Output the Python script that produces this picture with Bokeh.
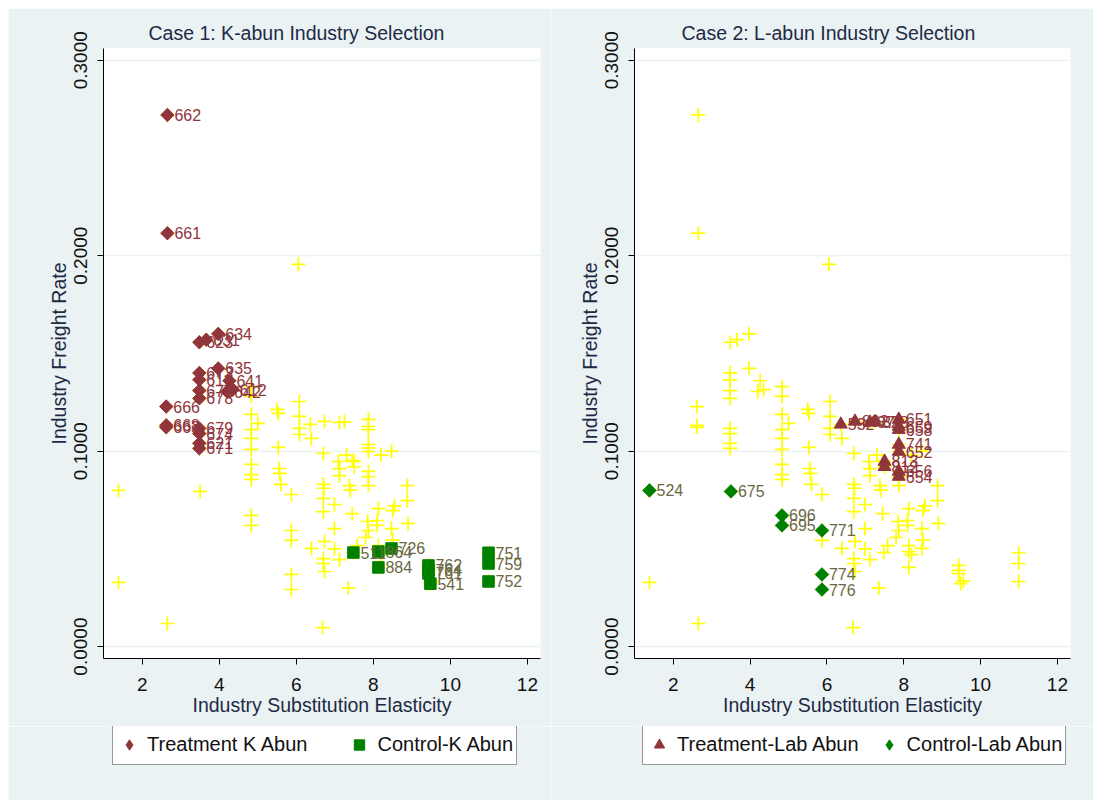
import numpy as np
from bokeh.plotting import figure
from bokeh.models import (FixedTicker, PrintfTickFormatter, Legend, LegendItem,
                          ColumnDataSource, Range1d, Spacer)
from bokeh.layouts import row, column
from bokeh.embed import file_html
from bokeh.resources import INLINE
from bokeh.core.properties import value

# ---------------- data ----------------
# Case 1: treatment (K-abundant) industries
tk_sigma = [2.65, 2.65, 3.48, 3.66, 3.97, 3.97, 3.48, 3.48, 4.26, 3.48, 4.35, 4.20,
            3.48, 2.62, 2.62, 2.62, 3.48, 3.48, 3.48, 3.48]
tk_freight = [0.2720, 0.2115, 0.1557, 0.1570, 0.1600, 0.1423, 0.1400, 0.1365, 0.1360,
              0.1310, 0.1315, 0.1305, 0.1270, 0.1228, 0.1132, 0.1122, 0.1116, 0.1090,
              0.1040, 0.1014]
tk_code = ["662", "661", "623", "631", "634", "635", "673", "611", "641", "672", "612",
           "642", "678", "666", "668", "663", "679", "674", "621", "671"]

# Case 1: control industries
ck_sigma = [7.48, 8.13, 8.47, 8.13, 9.43, 9.43, 9.43, 9.48, 10.99, 10.99, 10.99]
ck_freight = [0.0481, 0.0486, 0.0502, 0.0405, 0.0415, 0.0390, 0.0374, 0.0322, 0.0480,
              0.0425, 0.0333]
ck_code = ["511", "864", "726", "884", "762", "764", "761", "541", "751", "759", "752"]

# Case 2: treatment (L-abundant) industries
tl_sigma = [6.36, 6.73, 7.12, 7.25, 7.87, 7.87, 7.87, 7.87, 7.87, 7.50, 7.50, 7.87, 7.87]
tl_freight = [0.1137, 0.1152, 0.1147, 0.1150, 0.1162, 0.1126, 0.1110, 0.1034, 0.0998,
              0.0947, 0.0920, 0.0896, 0.0870]
tl_code = ["532", "892", "872", "828", "651", "659", "658", "741", "652", "813", "812",
           "656", "654"]

# Case 2: control industries
cl_sigma = [1.38, 3.50, 4.83, 4.83, 5.87, 5.87, 5.87]
cl_freight = [0.0799, 0.0794, 0.0671, 0.0620, 0.0594, 0.0369, 0.0292]
cl_code = ["524", "675", "696", "695", "771", "774", "776"]

# remaining industries (never selected)
other_sigma = [1.38, 2.65,
               4.83, 4.83, 4.83, 4.83, 4.83, 4.83, 4.83, 4.83, 4.83,
               5.00, 5.50, 5.53, 5.53, 5.55, 5.57, 5.60,
               5.87, 5.87,
               6.05, 6.08, 6.08, 6.08, 6.08, 6.39, 6.39,
               6.70, 6.70, 6.72, 6.70, 6.70, 6.73, 6.70, 6.70, 6.73, 6.68,
               6.99, 6.99, 6.99, 7.12, 7.09, 7.12, 7.12,
               7.30, 7.45, 7.38, 7.40, 7.35, 7.58, 7.45,
               7.87, 7.87, 7.80, 7.85, 7.87,
               8.20, 8.13, 8.10, 8.13, 8.20, 8.10,
               8.47, 8.50, 8.47, 8.55, 8.50,
               8.88, 8.88, 8.90, 9.55]
other_freight = [0.0328, 0.0118,
                 0.1330, 0.1280, 0.1188, 0.1110, 0.1065, 0.1009, 0.0932, 0.0880, 0.0855,
                 0.1142, 0.1214, 0.1193, 0.1019, 0.0911, 0.0886, 0.0830,
                 0.0778, 0.0543,
                 0.1956, 0.1254, 0.1178, 0.1116, 0.1085, 0.1065, 0.0502,
                 0.0988, 0.0830, 0.0810, 0.0758, 0.0690, 0.0538, 0.0450, 0.0425, 0.0384,
                 0.0097,
                 0.0727, 0.0604, 0.0500, 0.0445, 0.0947, 0.0910, 0.0875,
                 0.0980, 0.0952, 0.0824, 0.0800, 0.0300, 0.0517, 0.0680,
                 0.0824, 0.0594, 0.0558, 0.0640, 0.1016,
                 0.0980, 0.0706, 0.0645, 0.0517, 0.0470, 0.0620,
                 0.1000, 0.0696, 0.0604, 0.0720, 0.0545,
                 0.0824, 0.0747, 0.0630, 0.0335]

x_ticks = [2, 4, 6, 8, 10, 12]
y_ticks = [0.0, 0.1, 0.2, 0.3]

all_sigma = other_sigma + tk_sigma + ck_sigma + tl_sigma + cl_sigma
all_freight = other_freight + tk_freight + ck_freight + tl_freight + cl_freight

# ---------------- style ----------------
BG = "#EAF2F3"
RED = "#90353B"
GREEN = "#008000"
YEL = "#FFFF00"
TXT = "#1E2A45"
FONT = "Liberation Sans"
LAB_GREEN = "#6B6842"


def panel(title, width, min_left, min_right, title_offset,
          t_x, t_y, t_code, t_kind, c_x, c_y, c_code, c_kind):
    p = figure(width=width, height=718, output_backend="svg", toolbar_location=None,
               x_range=Range1d(0.99, 12.34), y_range=Range1d(-0.0061, 0.306),
               min_border_left=min_left, min_border_right=min_right,
               min_border_top=40, min_border_bottom=68,
               background_fill_color="white", border_fill_color=BG,
               outline_line_color=None)
    p.title.text = title
    p.title.align = "left"
    p.title.offset = title_offset
    p.title.text_font = FONT
    p.title.text_font_size = "19.5px"
    p.title.text_font_style = "normal"
    p.title.text_color = TXT
    p.title.standoff = 10

    p.xgrid.visible = False
    p.ygrid.grid_line_color = BG
    p.ygrid.grid_line_width = 1.5
    p.ygrid.ticker = FixedTicker(ticks=y_ticks)

    p.xaxis.ticker = FixedTicker(ticks=x_ticks)
    p.yaxis.ticker = FixedTicker(ticks=y_ticks)
    p.yaxis.formatter = PrintfTickFormatter(format="%.4f")
    p.yaxis.major_label_orientation = "vertical"
    for ax in (p.xaxis, p.yaxis):
        ax.axis_line_color = "#000000"
        ax.axis_line_width = 1
        ax.major_tick_line_color = "#000000"
        ax.major_tick_out = 6
        ax.major_tick_in = 0
        ax.minor_tick_line_color = None
        ax.major_label_text_font = FONT
        ax.major_label_text_font_size = "19px"
        ax.major_label_text_color = "#111111"
        ax.axis_label_text_font = FONT
        ax.axis_label_text_font_size = "19.5px"
        ax.axis_label_text_font_style = "normal"
        ax.axis_label_text_color = TXT
    p.xaxis.axis_label = "Industry Substitution Elasticity"
    p.yaxis.axis_label = "Industry Freight Rate"
    p.xaxis.major_label_standoff = 13
    p.xaxis.axis_label_standoff = 0
    p.yaxis.major_label_standoff = 10
    p.yaxis.axis_label_standoff = 2

    # all industries in yellow
    p.scatter(all_sigma, all_freight, marker="cross", size=14, line_color=YEL,
              line_width=1.7)

    def draw(xs, ys, codes, kind, color, lab_color):
        src = ColumnDataSource(dict(x=xs, y=ys, code=codes))
        if kind == "diamond":
            p.scatter("x", "y", source=src, marker="square", size=9.5,
                      angle=np.pi / 4, fill_color=color, line_color=color)
        elif kind == "square":
            p.scatter("x", "y", source=src, marker="square", size=11.5,
                      fill_color=color, line_color=color)
        else:
            p.scatter("x", "y", source=src, marker="triangle", size=13,
                      fill_color=color, line_color=color)
        p.text("x", "y", text="code", source=src, x_offset=7, text_baseline="middle",
               text_font=value(FONT), text_font_size="16px", text_color=lab_color)

    draw(t_x, t_y, t_code, t_kind, RED, RED)
    draw(c_x, c_y, c_code, c_kind, GREEN, LAB_GREEN)
    return p


def legend_fig(width, min_left, min_right, t_x, t_y, t_kind, t_label,
               c_x, c_y, c_kind, c_label, loc, spacing):
    # key strip below the panel; the series are plotted off-range so only the key shows
    lf = figure(width=width, height=74, output_backend="svg", toolbar_location=None,
                x_axis_location=None, y_axis_location=None,
                min_border_left=min_left, min_border_right=min_right,
                min_border_top=0, min_border_bottom=0,
                x_range=Range1d(100, 101), y_range=Range1d(100, 101),
                background_fill_color=BG, border_fill_color=BG,
                outline_line_color=None)
    lf.grid.visible = False
    rt = lf.scatter(t_x, t_y, marker=t_kind, fill_color=RED, line_color=RED)
    rc = lf.scatter(c_x, c_y, marker=c_kind, fill_color=GREEN, line_color=GREEN)
    leg = Legend(items=[LegendItem(label=t_label, renderers=[rt]),
                        LegendItem(label=c_label, renderers=[rc])],
                 orientation="horizontal", location=loc,
                 border_line_color="#333333", border_line_width=1.3,
                 background_fill_color="white", background_fill_alpha=1.0,
                 label_text_font=FONT, label_text_font_size="20px",
                 label_text_color="#111111",
                 padding=3, spacing=spacing, label_standoff=5,
                 glyph_width=26, glyph_height=33, label_height=33, margin=0)
    lf.add_layout(leg, "center")
    return lf


p1 = panel("Case 1: K-abun Industry Selection", 542, 95, 10, 45,
           tk_sigma, tk_freight, tk_code, "diamond",
           ck_sigma, ck_freight, ck_code, "square")
p2 = panel("Case 2: L-abun Industry Selection", 543, 84, 23, 47,
           tl_sigma, tl_freight, tl_code, "triangle",
           cl_sigma, cl_freight, cl_code, "diamond")
l1 = legend_fig(542, 95, 10, tk_sigma, tk_freight, "diamond", "Treatment K Abun",
                ck_sigma, ck_freight, "square", "Control-K Abun", (9, 35), 39)
l2 = legend_fig(543, 84, 23, tl_sigma, tl_freight, "triangle", "Treatment-Lab Abun",
                cl_sigma, cl_freight, "diamond", "Control-Lab Abun", (8, 35), 17)

layout = column(Spacer(height=8),
                row(Spacer(width=8), column(p1, l1), column(p2, l2)))
open("out.html", "w").write(file_html(layout, INLINE))
